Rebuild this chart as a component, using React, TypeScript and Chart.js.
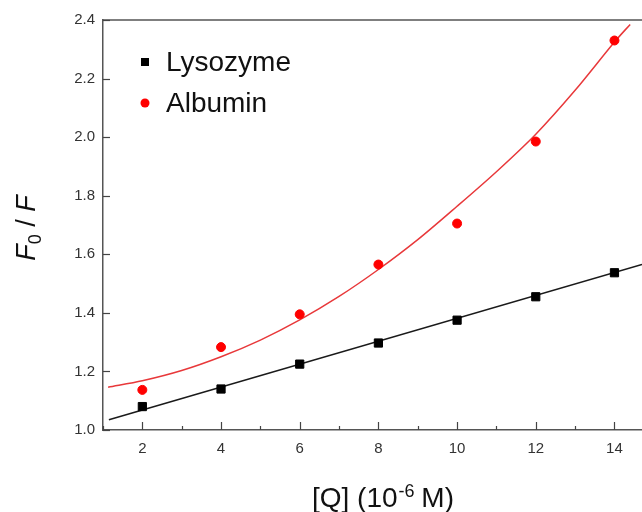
import React, { useEffect, useRef } from "react";
import { Chart, registerables } from "chart.js";

Chart.register(...registerables);

// Measured data
const concentrations = [2, 4, 6, 8, 10, 12, 14];
const lysozymeValues = [1.08, 1.14, 1.225, 1.297, 1.375, 1.455, 1.537];
const albuminValues = [1.137, 1.283, 1.395, 1.565, 1.705, 1.985, 2.33];

// Fit curves
const lysozymeFitX = [1.15, 14.7];
const lysozymeFitY = [1.035, 1.565];
const albuminFitX = [1.13, 2, 3, 4, 5, 6, 7, 8, 9, 10, 11, 12, 13, 14, 14.4];
const albuminFitY = [1.146, 1.168, 1.203, 1.25, 1.307, 1.376, 1.456, 1.548, 1.65, 1.764, 1.882, 2.01, 2.16, 2.325, 2.385];

// Axis ticks
const xTickValues = [1, 2, 3, 4, 5, 6, 7, 8, 9, 10, 11, 12, 13, 14];
const yTickValues = [1.0, 1.2, 1.4, 1.6, 1.8, 2.0, 2.2, 2.4];

const seriesNames = ["Lysozyme", "Albumin"];

const FONT = "'Liberation Sans', Arial, Helvetica, sans-serif";

function toPoints(xs: number[], ys: number[]) {
  return xs.map((x, i) => ({ x, y: ys[i] }));
}

export default function App() {
  const ref = useRef<HTMLCanvasElement>(null);

  useEffect(() => {
    document.body.style.margin = "0";
    const canvas = ref.current!;

    const framePlugin = {
      id: "frame",
      afterDraw(chart: any) {
        const ctx = chart.ctx as CanvasRenderingContext2D;
        const area = chart.chartArea;
        const xs = chart.scales.x;
        const ys = chart.scales.y;
        ctx.save();
        // top border
        ctx.strokeStyle = "#555";
        ctx.lineWidth = 1.5;
        ctx.beginPath();
        ctx.moveTo(area.left, area.top);
        ctx.lineTo(area.right, area.top);
        ctx.stroke();
        // x ticks (inside)
        ctx.lineWidth = 1.2;
        ctx.strokeStyle = "#444";
        for (const v of xTickValues) {
          const px = Math.round(xs.getPixelForValue(v)) + 0.5;
          const len = v % 2 === 0 ? 8 : 4;
          ctx.beginPath();
          ctx.moveTo(px, area.bottom);
          ctx.lineTo(px, area.bottom - len);
          ctx.stroke();
        }
        // y ticks (inside)
        for (const v of yTickValues) {
          const py = Math.round(ys.getPixelForValue(v)) + 0.5;
          ctx.beginPath();
          ctx.moveTo(area.left, py);
          ctx.lineTo(area.left + 7, py);
          ctx.stroke();
        }

        // legend
        const lx = area.left + 42;
        const ly1 = area.top + 42;
        const ly2 = area.top + 83;
        ctx.fillStyle = "#000";
        ctx.fillRect(lx - 4, ly1 - 4, 8, 8);
        ctx.fillStyle = "#ff0000";
        ctx.beginPath();
        ctx.arc(lx, ly2, 4.5, 0, Math.PI * 2);
        ctx.fill();
        ctx.fillStyle = "#111";
        ctx.font = `28px ${FONT}`;
        ctx.textAlign = "left";
        ctx.textBaseline = "middle";
        ctx.fillText(seriesNames[0], lx + 21, ly1 + 1);
        ctx.fillText(seriesNames[1], lx + 21, ly2 + 1);

        // x title: [Q] (10^-6 M)
        ctx.textBaseline = "alphabetic";
        const mainFont = `28px ${FONT}`;
        const supFont = `18px ${FONT}`;
        const p1 = "[Q] (10";
        const p2 = "-6";
        const p3 = " M)";
        ctx.font = mainFont;
        const w1 = ctx.measureText(p1).width;
        const w3 = ctx.measureText(p3).width;
        ctx.font = supFont;
        const w2 = ctx.measureText(p2).width;
        const total = w1 + w2 + w3;
        const cx = 383;
        const base = 507;
        const x0 = cx - total / 2;
        ctx.font = mainFont;
        ctx.fillText(p1, x0, base);
        ctx.font = supFont;
        ctx.fillText(p2, x0 + w1 + 1, base - 10);
        ctx.font = mainFont;
        ctx.fillText(p3, x0 + w1 + w2, base);

        // y title: F0 / F (rotated)
        ctx.translate(35, 228);
        ctx.rotate(-Math.PI / 2);
        const itFont = `italic 27px ${FONT}`;
        const subFont = `18px ${FONT}`;
        const yMain = `27px ${FONT}`;
        const q1 = "F";
        const q2 = "0";
        const q3 = " / ";
        const q4 = "F";
        ctx.font = itFont;
        const v1 = ctx.measureText(q1).width;
        const v4 = ctx.measureText(q4).width;
        ctx.font = subFont;
        const v2 = ctx.measureText(q2).width;
        ctx.font = yMain;
        const v3 = ctx.measureText(q3).width;
        const tot = v1 + v2 + v3 + v4;
        let t = -tot / 2;
        ctx.font = itFont;
        ctx.fillText(q1, t, 0);
        t += v1;
        ctx.font = subFont;
        ctx.fillText(q2, t, 6);
        t += v2;
        ctx.font = yMain;
        ctx.fillText(q3, t, 0);
        t += v3;
        ctx.font = itFont;
        ctx.fillText(q4, t, 0);
        ctx.restore();
      },
    };

    const chart = new Chart(canvas, {
      type: "scatter",
      data: {
        datasets: [
          {
            label: seriesNames[0],
            data: toPoints(concentrations, lysozymeValues),
            pointStyle: "rect",
            pointRadius: 5.8,
            borderWidth: 1,
            backgroundColor: "#000",
            borderColor: "#000",
            showLine: false,
          },
          {
            label: seriesNames[1],
            data: toPoints(concentrations, albuminValues),
            pointStyle: "circle",
            pointRadius: 4.5,
            borderWidth: 1,
            backgroundColor: "#ff0000",
            borderColor: "#ff0000",
            showLine: false,
          },
          {
            label: "Lysozyme fit",
            data: toPoints(lysozymeFitX, lysozymeFitY),
            showLine: true,
            pointRadius: 0,
            borderColor: "#1a1a1a",
            borderWidth: 1.5,
            fill: false,
          },
          {
            label: "Albumin fit",
            data: toPoints(albuminFitX, albuminFitY),
            showLine: true,
            pointRadius: 0,
            borderColor: "#e8383a",
            borderWidth: 1.5,
            tension: 0.3,
            fill: false,
          },
        ],
      },
      options: {
        responsive: false,
        animation: false,
        layout: { autoPadding: false, padding: { top: 20, right: 0, left: 0, bottom: 0 } },
        plugins: {
          legend: { display: false },
          tooltip: { enabled: false },
        },
        scales: {
          x: {
            type: "linear",
            min: 1,
            max: 14.7,
            afterFit(scale: any) {
              scale.height = 82;
              scale.paddingLeft = 0;
              scale.paddingRight = 0;
            },
            grid: { display: false, drawTicks: false },
            border: { display: true, color: "#555", width: 1.5 },
            ticks: {
              stepSize: 1,
              includeBounds: false,
              autoSkip: false,
              maxRotation: 0,
              padding: 10,
              color: "#333",
              font: { family: FONT, size: 15 },
              callback: (v: any) => (Number(v) % 2 === 0 ? String(v) : ""),
            },
          },
          y: {
            type: "linear",
            min: 1,
            max: 2.4,
            afterFit(scale: any) {
              scale.width = 103;
              scale.paddingTop = 0;
              scale.paddingBottom = 0;
            },
            grid: { display: false, drawTicks: false },
            border: { display: true, color: "#555", width: 1.5 },
            ticks: {
              stepSize: 0.2,
              includeBounds: false,
              autoSkip: false,
              padding: 8,
              color: "#333",
              font: { family: FONT, size: 15 },
              callback: (v: any) => Number(v).toFixed(1),
            },
          },
        },
      } as any,
      plugins: [framePlugin],
    });

    return () => chart.destroy();
  }, []);

  return (
    <div style={{ position: "fixed", left: 0, top: 0, width: 642, height: 512 }}>
      <canvas ref={ref} width={642} height={512} />
    </div>
  );
}
